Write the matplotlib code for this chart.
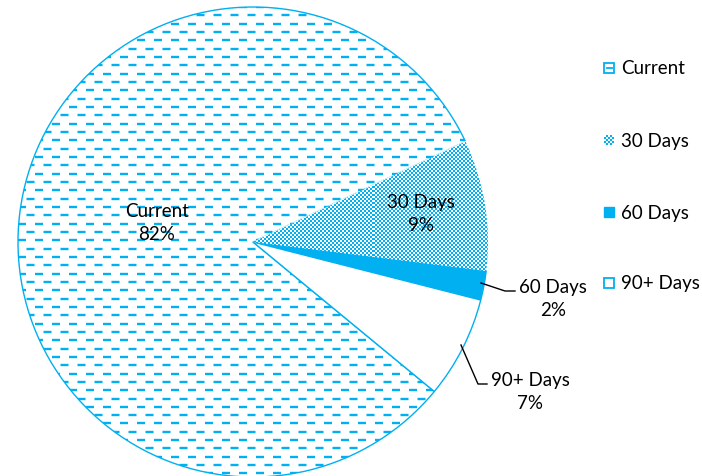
import numpy as np
import matplotlib.pyplot as plt
from matplotlib.patches import Rectangle
from matplotlib.colors import ListedColormap

# ------------------------------
# datos
# ------------------------------
etiquetas = ['Current', '30 Days', '60 Days', '90+ Days']
valores = [82, 9, 2, 7]
porcentajes = ['82%', '9%', '2%', '7%']

AZUL = '#00B0F0'
plt.rcParams['font.family'] = ['Lato', 'DejaVu Sans']
plt.rcParams['lines.scale_dashes'] = False

W, H = 702, 477
fig = plt.figure(figsize=(W / 100, H / 100), dpi=100)
ax = fig.add_axes([0, 0, 1, 1])

cx, cy, r = 253, H - 243, 235
wedges, _ = ax.pie(valores, center=(cx, cy), radius=r, startangle=320.5,
                   counterclock=False,
                   wedgeprops=dict(edgecolor=AZUL, linewidth=1.0))
ax.set_xlim(0, W)
ax.set_ylim(0, H)
ax.axis('off')

# estilos de cada rebanada
wedges[0].set_facecolor('white')
wedges[1].set_facecolor('white')
wedges[1].set_edgecolor('white')
wedges[2].set_facecolor(AZUL)
wedges[3].set_facecolor('white')

# textura de cuadritos para "30 Days"
cuadros = np.add.outer(np.arange(90), np.arange(120)) % 2
tablero = ListedColormap(['white', AZUL])
im = ax.imshow(cuadros, cmap=tablero, interpolation='nearest', origin='lower',
               extent=(252, 492, cy - 60, cy + 120), zorder=1.5)
im.set_clip_path(wedges[1])
ax.set_xlim(0, W)
ax.set_ylim(0, H)

# lineas punteadas dentro de "Current"
px = 0.72  # puntos por pixel
filas = np.arange(cy + r, cy - r, -8.33)
for i, y in enumerate(filas):
    off = 0 if i % 2 == 0 else 8.5 * px
    ln, = ax.plot([cx - r, cx + r], [y, y], color=AZUL, lw=1.7,
                  linestyle=(off, (8 * px, 9 * px)), dash_capstyle='butt')
    ln.set_clip_path(wedges[0])

# etiquetas de datos
pos_etq = [(157, 223), (421, 214), (553, 299), (530, 392)]
for (x, y), e, p in zip(pos_etq, etiquetas, porcentajes):
    ax.text(x, H - y, f"{e}\n{p}", ha='center', va='center', fontsize=13.5,
            linespacing=1.4, color='black', zorder=3)

# lineas guia
ax.plot([481, 505, 515], [H - 284, H - 292, H - 292], color='black', lw=1)
ax.plot([461, 478, 487], [H - 346, H - 385, H - 385], color='black', lw=1)

# leyenda manual
filas_ley = [69, 141, 213, 284]
for k, (e, y) in enumerate(zip(etiquetas, filas_ley)):
    yy = H - y
    if k == 0:
        ax.add_patch(Rectangle((604, yy - 5), 10, 10, facecolor='white',
                               edgecolor=AZUL, lw=1.3))
        ax.plot([607, 612], [yy, yy], color=AZUL, lw=1.3)
    elif k == 1:
        ax.imshow(np.add.outer(np.arange(5), np.arange(5)) % 2, cmap=tablero,
                  interpolation='nearest', origin='lower',
                  extent=(604, 614, yy - 5, yy + 5), zorder=2)
    elif k == 2:
        ax.add_patch(Rectangle((604, yy - 5), 10, 10, facecolor=AZUL,
                               edgecolor=AZUL, lw=1))
    else:
        ax.add_patch(Rectangle((604, yy - 5), 10, 10, facecolor='white',
                               edgecolor=AZUL, lw=1.3))
    ax.text(621, yy, e, ha='left', va='center', fontsize=13.5, color='black')

ax.set_xlim(0, W)
ax.set_ylim(0, H)
fig.savefig('out.png', dpi=100)
